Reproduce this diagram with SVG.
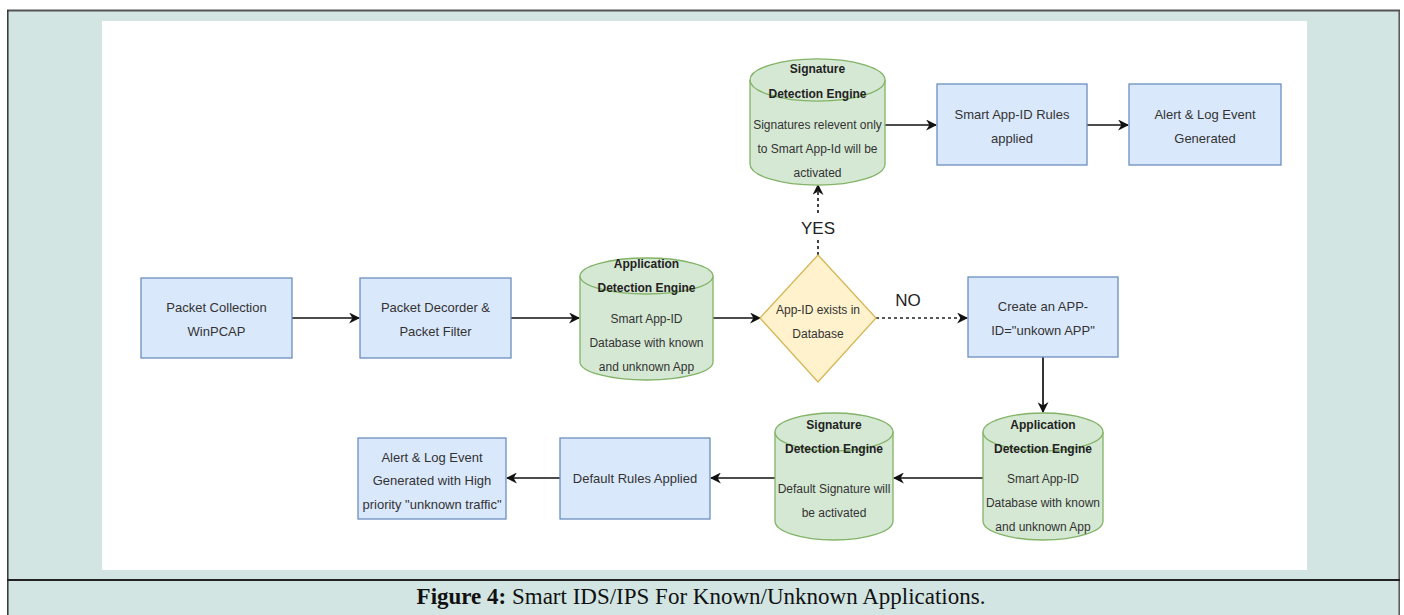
<svg xmlns="http://www.w3.org/2000/svg" width="1404" height="615" viewBox="0 0 1404 615">
<style>
  .box { fill: #dae8fc; stroke: #6c8ebf; stroke-width: 1.3; }
  .cyl { fill: #d5e8d4; stroke: #82b366; stroke-width: 1.3; }
  .dia { fill: #fff2cc; stroke: #d6b656; stroke-width: 1.3; }
  .t { font-family: "Liberation Sans", Arial, sans-serif; font-size: 12px; fill: #333; text-anchor: middle; }
  .bt { font-family: "Liberation Sans", Arial, sans-serif; font-size: 13px; fill: #333; text-anchor: middle; }
  .b { font-family: "Liberation Sans", Arial, sans-serif; font-size: 12px; font-weight: bold; fill: #222; text-anchor: middle; }
  .lbl { font-family: "Liberation Sans", Arial, sans-serif; font-size: 17px; fill: #222; text-anchor: middle; }
  .edge { fill: none; stroke: #111; stroke-width: 1.7; }
  .dash { fill: none; stroke: #222; stroke-width: 1.7; stroke-dasharray: 3 3; }
  .cap { font-family: "Liberation Serif", "Times New Roman", serif; font-size: 23px; fill: #111; text-anchor: middle; }
</style>
<defs>
  <marker id="arr" viewBox="0 0 10 10" refX="9" refY="5" markerWidth="11" markerHeight="11" markerUnits="userSpaceOnUse" orient="auto">
    <path d="M0,0 L10,5 L0,10 L3,5 Z" fill="#111"/>
  </marker>
</defs>
<!-- frame -->
<rect x="0" y="0" width="1404" height="615" fill="#ffffff"/>
<rect x="7.5" y="10.5" width="1392" height="606" fill="#d2e5e3"/>
<line x1="7" y1="10.5" x2="1400" y2="10.5" stroke="#555" stroke-width="2.2"/>
<line x1="7.8" y1="10" x2="7.8" y2="615" stroke="#333" stroke-width="1.5"/>
<line x1="1399.2" y1="10" x2="1399.2" y2="615" stroke="#555" stroke-width="1.5"/>
<rect x="102" y="21" width="1205" height="549" fill="#ffffff"/>
<line x1="7" y1="580" x2="1400" y2="580" stroke="#222" stroke-width="1.8"/>
<text class="cap" x="701" y="604"><tspan font-weight="bold">Figure 4:</tspan> Smart IDS/IPS For Known/Unknown Applications.</text>

<g id="connectors">
  <line class="edge" x1="292" y1="318" x2="359" y2="318" marker-end="url(#arr)"/>
  <line class="edge" x1="511" y1="318" x2="579" y2="318" marker-end="url(#arr)"/>
  <line class="edge" x1="713" y1="318" x2="760" y2="318" marker-end="url(#arr)"/>
  <line class="dash" x1="876" y1="318" x2="967" y2="318" marker-end="url(#arr)"/>
  <line class="dash" x1="818" y1="255" x2="818" y2="185" marker-end="url(#arr)"/>
  <line class="edge" x1="885" y1="125" x2="936" y2="125" marker-end="url(#arr)"/>
  <line class="edge" x1="1087" y1="125" x2="1128" y2="125" marker-end="url(#arr)"/>
  <line class="edge" x1="1043" y1="357" x2="1043" y2="412" marker-end="url(#arr)"/>
  <line class="edge" x1="983" y1="478" x2="894" y2="478" marker-end="url(#arr)"/>
  <line class="edge" x1="775" y1="478" x2="711" y2="478" marker-end="url(#arr)"/>
  <line class="edge" x1="560" y1="478" x2="507" y2="478" marker-end="url(#arr)"/>
  <rect x="805" y="216" width="26" height="22" fill="#ffffff"/>
  <text class="lbl" x="818" y="234">YES</text>
  <text class="lbl" x="908" y="306">NO</text>
</g>

<g id="packet-collection">
  <rect class="box" x="141" y="278" width="151" height="80"/>
  <text class="bt" x="216.5" y="312">Packet Collection</text>
  <text class="bt" x="216.5" y="336">WinPCAP</text>
</g>

<g id="packet-decoder">
  <rect class="box" x="360" y="278" width="151" height="80"/>
  <text class="bt" x="435.5" y="312">Packet Decorder &amp;</text>
  <text class="bt" x="435.5" y="336">Packet Filter</text>
</g>

<g id="app-engine-1">
  <path class="cyl" d="M580,276 A66.5,18 0 0 1 713,276 L713,362 A66.5,18 0 0 1 580,362 Z"/>
  <path class="cyl" fill="none" d="M580,276 A66.5,18 0 0 0 713,276"/>
  <text class="b" x="646.5" y="268">Application</text>
  <text class="b" x="646.5" y="292">Detection Engine</text>
  <text class="t" x="646.5" y="323">Smart App-ID</text>
  <text class="t" x="646.5" y="347">Database with known</text>
  <text class="t" x="646.5" y="371">and unknown App</text>
</g>

<g id="decision">
  <polygon class="dia" points="818,255 876,318 818,382 760,318"/>
  <text class="t" x="818" y="314">App-ID exists in</text>
  <text class="t" x="818" y="338">Database</text>
</g>

<g id="sig-engine-1">
  <path class="cyl" d="M750,80 A67,21 0 0 1 885,80 L885,164 A67,21 0 0 1 750,164 Z"/>
  <path class="cyl" fill="none" d="M750,80 A67,21 0 0 0 885,80"/>
  <text class="b" x="817.5" y="73">Signature</text>
  <text class="b" x="817.5" y="98">Detection Engine</text>
  <text class="t" x="817.5" y="129">Signatures relevent only</text>
  <text class="t" x="817.5" y="153">to Smart App-Id will be</text>
  <text class="t" x="817.5" y="177">activated</text>
</g>

<g id="smart-rules">
  <rect class="box" x="937" y="84" width="150" height="81"/>
  <text class="bt" x="1012" y="119">Smart App-ID Rules</text>
  <text class="bt" x="1012" y="143">applied</text>
</g>

<g id="alert-1">
  <rect class="box" x="1129" y="84" width="152" height="81"/>
  <text class="bt" x="1205" y="119">Alert &amp; Log Event</text>
  <text class="bt" x="1205" y="143">Generated</text>
</g>

<g id="create-app-id">
  <rect class="box" x="968" y="277" width="150" height="80"/>
  <text class="bt" x="1043" y="311">Create an APP-</text>
  <text class="bt" x="1043" y="335">ID="unkown APP"</text>
</g>

<g id="app-engine-2">
  <path class="cyl" d="M983,432 A60,19 0 0 1 1103,432 L1103,521 A60,19 0 0 1 983,521 Z"/>
  <path class="cyl" fill="none" d="M983,432 A60,19 0 0 0 1103,432"/>
  <text class="b" x="1043" y="429">Application</text>
  <text class="b" x="1043" y="453">Detection Engine</text>
  <text class="t" x="1043" y="483">Smart App-ID</text>
  <text class="t" x="1043" y="507">Database with known</text>
  <text class="t" x="1043" y="531">and unknown App</text>
</g>

<g id="sig-engine-2">
  <path class="cyl" d="M775,432 A59,19 0 0 1 893,432 L893,521 A59,19 0 0 1 775,521 Z"/>
  <path class="cyl" fill="none" d="M775,432 A59,19 0 0 0 893,432"/>
  <text class="b" x="834" y="429">Signature</text>
  <text class="b" x="834" y="453">Detection Engine</text>
  <text class="t" x="834" y="493">Default Signature will</text>
  <text class="t" x="834" y="517">be activated</text>
</g>

<g id="default-rules">
  <rect class="box" x="560" y="438" width="150" height="81"/>
  <text class="bt" x="635" y="483">Default Rules Applied</text>
</g>

<g id="alert-2">
  <rect class="box" x="358" y="438" width="148" height="81"/>
  <text class="bt" x="432" y="462">Alert &amp; Log Event</text>
  <text class="bt" x="432" y="485">Generated with High</text>
  <text class="bt" x="432" y="509">priority "unknown traffic"</text>
</g>
</svg>
